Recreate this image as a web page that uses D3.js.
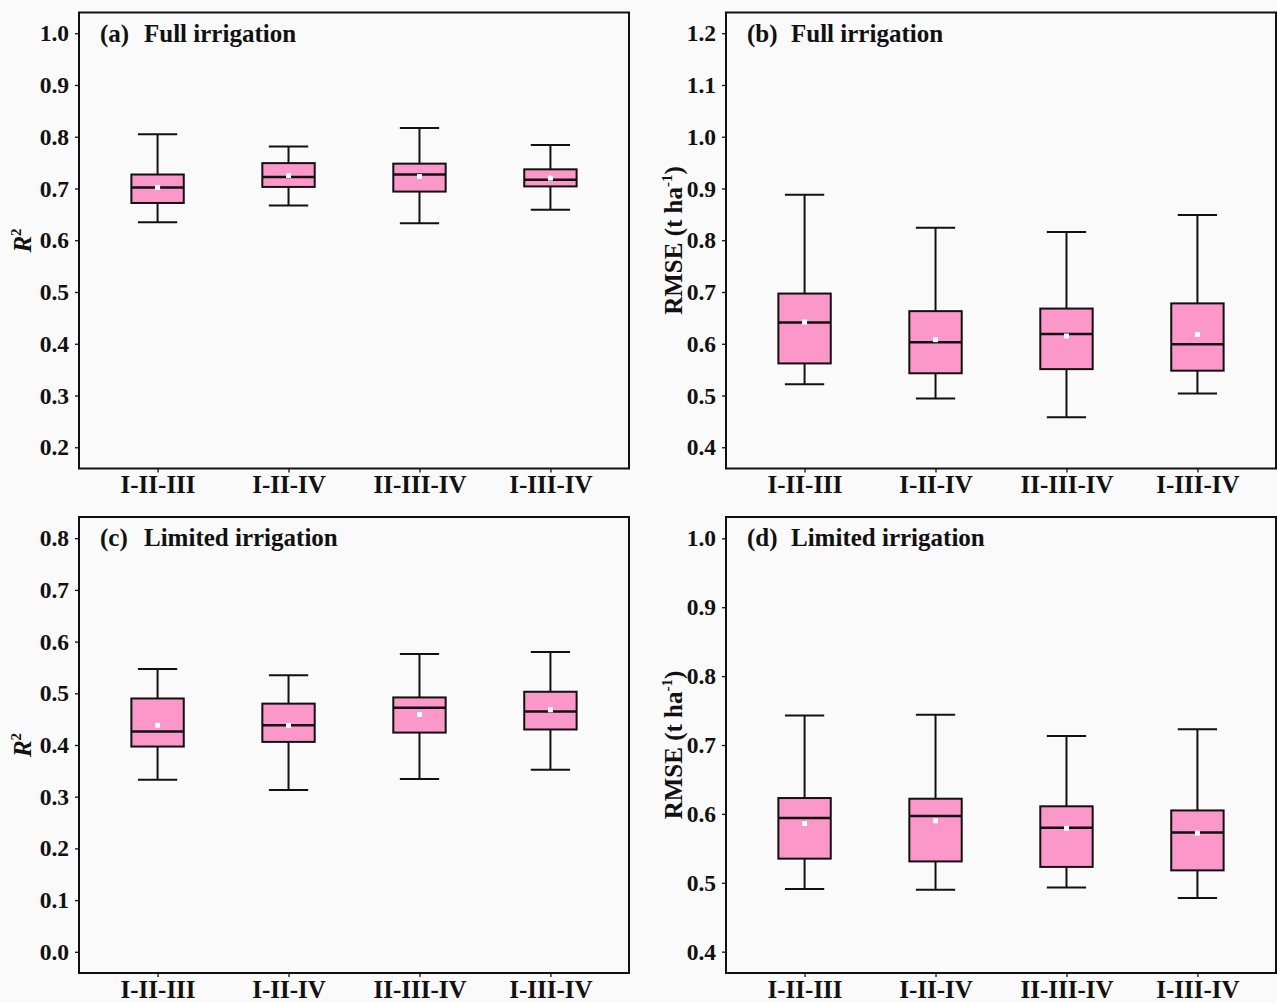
<!DOCTYPE html>
<html>
<head>
<meta charset="utf-8">
<script src="https://cdn.jsdelivr.net/npm/d3@7"></script>
<style>
  body { margin: 0; background: #fafafa; }
  text { font-family: "Liberation Serif", "Times New Roman", serif; font-weight: bold; fill: #111; }
</style>
</head>
<body>
<div id="app"></div>
<script>

// categories (model combinations)
var categories = ["I-II-III", "I-II-IV", "II-III-IV", "I-III-IV"]

// box stats per category: [lower whisker, Q1, median, Q3, upper whisker, mean]
var fullR2 = [
	[0.635, 0.672, 0.702, 0.727, 0.805, 0.702],
	[0.667, 0.703, 0.722, 0.749, 0.781, 0.725],
	[0.633, 0.694, 0.727, 0.748, 0.817, 0.723],
	[0.659, 0.704, 0.717, 0.737, 0.784, 0.720]
]

var fullRmse = [
	[0.522, 0.562, 0.641, 0.697, 0.888, 0.642],
	[0.494, 0.543, 0.603, 0.663, 0.824, 0.608],
	[0.458, 0.551, 0.619, 0.668, 0.816, 0.615],
	[0.504, 0.548, 0.599, 0.678, 0.849, 0.618]
]

var limitedR2 = [
	[0.333, 0.397, 0.426, 0.490, 0.547, 0.438],
	[0.313, 0.406, 0.438, 0.480, 0.535, 0.438],
	[0.334, 0.424, 0.472, 0.492, 0.576, 0.459],
	[0.352, 0.430, 0.465, 0.503, 0.580, 0.468]
]

var limitedRmse = [
	[0.491, 0.535, 0.594, 0.623, 0.743, 0.586],
	[0.490, 0.531, 0.597, 0.622, 0.744, 0.590],
	[0.493, 0.523, 0.580, 0.611, 0.713, 0.579],
	[0.478, 0.518, 0.573, 0.605, 0.723, 0.572]
]

// tick values
var ticksA = [0.2, 0.3, 0.4, 0.5, 0.6, 0.7, 0.8, 0.9, 1.0]
var ticksB = [0.4, 0.5, 0.6, 0.7, 0.8, 0.9, 1.0, 1.1, 1.2]
var ticksC = [0.0, 0.1, 0.2, 0.3, 0.4, 0.5, 0.6, 0.7, 0.8]
var ticksD = [0.4, 0.5, 0.6, 0.7, 0.8, 0.9, 1.0]

var panels = [
	{ tag: "(a)", title: "Full irrigation", stats: fullR2, ticks: ticksA, domain: [0.159, 1.04], ylab: "r2", x: 79, y: 12.5 },
	{ tag: "(b)", title: "Full irrigation", stats: fullRmse, ticks: ticksB, domain: [0.359, 1.24], ylab: "rmse", x: 726, y: 12.5 },
	{ tag: "(c)", title: "Limited irrigation", stats: limitedR2, ticks: ticksC, domain: [-0.041, 0.841], ylab: "r2", x: 79, y: 517 },
	{ tag: "(d)", title: "Limited irrigation", stats: limitedRmse, ticks: ticksD, domain: [0.369, 1.031], ylab: "rmse", x: 726, y: 517 }
]

var pw = 550, ph = 456

var svg = d3.select("#app").append("svg")
	.attr("width", 1277)
	.attr("height", 1003)

svg.append("rect").attr("width", 1277).attr("height", 1003).attr("fill", "#fafafa")

panels.forEach(function(p) {

	var g = svg.append("g").attr("transform", `translate(${p.x},${p.y})`)

	var x = d3.scalePoint().domain(categories).range([0, pw]).padding(0.6)

	var y = d3.scaleLinear().domain(p.domain).range([ph, 0])

	var step = x.step()
	var boxW = step * 0.4
	var capW = step * 0.3

	// axes
	var yAxis = g.append("g")
		.call(d3.axisLeft(y).tickValues(p.ticks).tickFormat(d3.format(".1f")).tickSize(4).tickPadding(6))

	yAxis.selectAll(".tick text").style("font-size", "23.5px")

	var xAxis = g.append("g")
		.attr("transform", `translate(0,${ph})`)
		.call(d3.axisBottom(x).tickSize(4).tickPadding(3))

	xAxis.selectAll(".tick text").style("font-size", "25px")

	g.selectAll(".domain").remove()
	g.selectAll(".tick line").attr("stroke", "#111").attr("stroke-width", 1.3)
	g.selectAll(".tick text").style("font-family", "'Liberation Serif', serif").style("font-weight", "bold").attr("fill", "#111")

	var boxes = g.selectAll(".box").data(p.stats).enter().append("g")
		.attr("class", "box")
		.attr("transform", (d, i) => `translate(${x(categories[i])},0)`)

	// whiskers
	boxes.append("line")
		.attr("x1", 0).attr("x2", 0)
		.attr("y1", d => y(d[4])).attr("y2", d => y(d[3]))
		.attr("stroke", "#111").attr("stroke-width", 2)

	boxes.append("line")
		.attr("x1", 0).attr("x2", 0)
		.attr("y1", d => y(d[1])).attr("y2", d => y(d[0]))
		.attr("stroke", "#111").attr("stroke-width", 2)

	boxes.append("line")
		.attr("x1", -capW / 2).attr("x2", capW / 2)
		.attr("y1", d => y(d[4])).attr("y2", d => y(d[4]))
		.attr("stroke", "#111").attr("stroke-width", 2)

	boxes.append("line")
		.attr("x1", -capW / 2).attr("x2", capW / 2)
		.attr("y1", d => y(d[0])).attr("y2", d => y(d[0]))
		.attr("stroke", "#111").attr("stroke-width", 2)

	// box
	boxes.append("rect")
		.attr("x", -boxW / 2)
		.attr("width", boxW)
		.attr("y", d => y(d[3]))
		.attr("height", d => y(d[1]) - y(d[3]))
		.attr("fill", "#fb98c9")
		.attr("stroke", "#111")
		.attr("stroke-width", 2)

	// median
	boxes.append("line")
		.attr("x1", -boxW / 2).attr("x2", boxW / 2)
		.attr("y1", d => y(d[2])).attr("y2", d => y(d[2]))
		.attr("stroke", "#111").attr("stroke-width", 2.5)

	// mean
	boxes.append("rect")
		.attr("x", -2.5).attr("width", 5)
		.attr("y", d => y(d[5]) - 2.5).attr("height", 5)
		.attr("fill", "#ffffff")

	// frame
	g.append("rect")
		.attr("width", pw).attr("height", ph)
		.attr("fill", "none")
		.attr("stroke", "#111")
		.attr("stroke-width", 2)

	// panel title
	var title = g.append("text")
		.attr("y", 29)
		.style("font-size", "25px")

	title.append("tspan").attr("x", 21).text(p.tag)
	title.append("tspan").attr("x", 65).text(p.title)

	// y label
	var lab = g.append("text")
		.attr("transform", `translate(${p.ylab === "r2" ? -48 : -44},${ph / 2}) rotate(-90)`)
		.attr("text-anchor", "middle")
		.style("font-size", "25px")

	if (p.ylab === "r2") {
		lab.append("tspan").style("font-style", "italic").text("R")
		lab.append("tspan").attr("dy", -10).style("font-size", "15px").text("2")
	} else {
		lab.append("tspan").text("RMSE (t ha")
		lab.append("tspan").attr("dy", -10).style("font-size", "15px").text("-1")
		lab.append("tspan").attr("dy", 10).text(")")
	}

})

</script>
</body>
</html>
